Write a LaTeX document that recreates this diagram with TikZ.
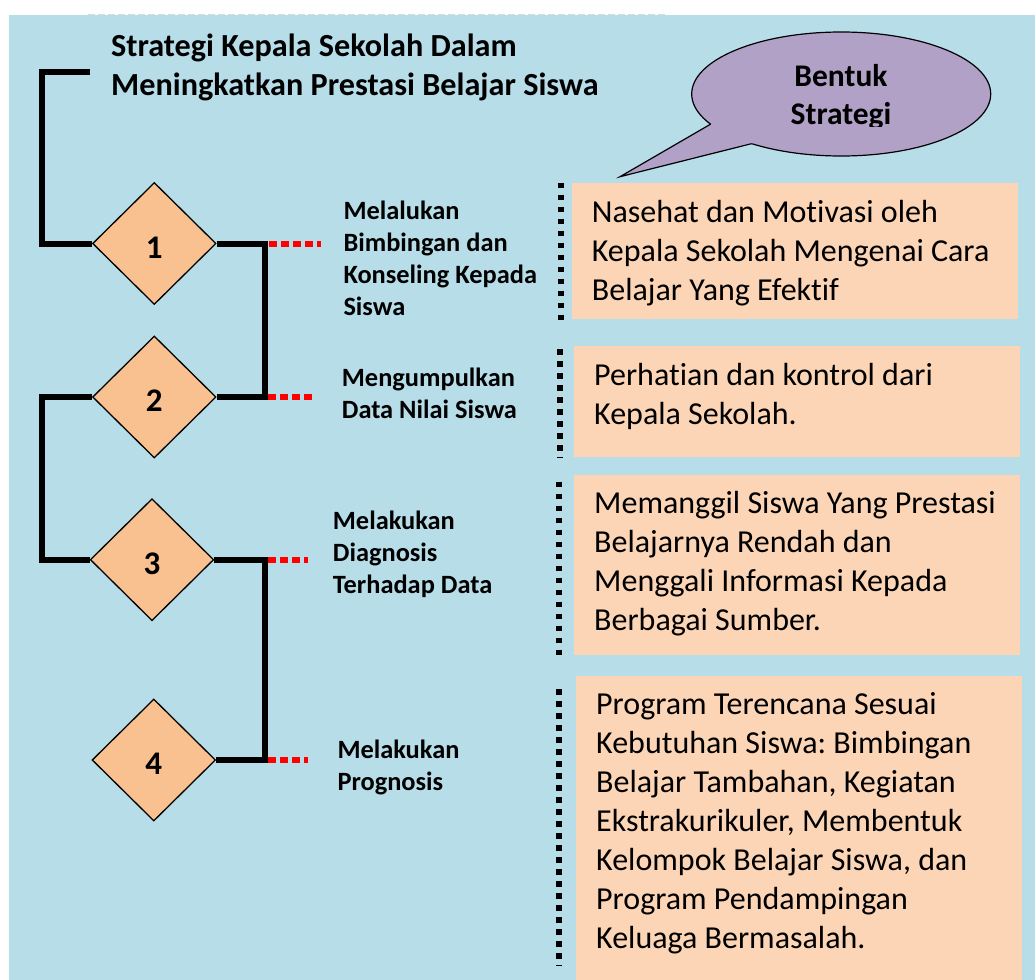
\documentclass[tikz,border=0pt]{standalone}
\usepackage{fontspec}
\setmainfont{Carlito}[Ligatures=CommonOff]
\usetikzlibrary{shapes.geometric}
\definecolor{bgblue}{HTML}{B7DDE8}
\definecolor{peach}{HTML}{FBD5B5}
\definecolor{diamondc}{HTML}{F9C090}
\definecolor{bubblec}{HTML}{B2A1C7}
\definecolor{dashgray}{HTML}{D4DCDE}
\frenchspacing
\newcommand\leftlines[1]{\vtop{\halign{##\hfil\cr#1\crcr}}}
\newcommand\centerlines[1]{\vtop{\halign{\hfil##\hfil\cr#1\crcr}}}
\tikzset{
  conn/.style={line width=6bp, line join=miter},
  reddots/.style={red, line width=6bp, dash pattern=on 7.5bp off 4.5bp},
  blackdots/.style={black, line width=5.7bp, dash pattern=on 5.7bp off 6.3bp},
  numdiamond/.style={diamond, draw, line width=1.3bp, fill=diamondc,
    minimum width=123.5bp, minimum height=122bp, inner sep=0bp,
    font=\fontsize{33bp}{33bp}\selectfont\bfseries, text height=29bp, text depth=0bp},
  stratbox/.style={rectangle, fill=peach, inner sep=0bp, minimum width=446bp},
  steplabel/.style={anchor=base west, inner sep=0bp, font=\fontsize{26.4bp}{32bp}\selectfont\bfseries},
  boxtext/.style={anchor=base west, inner sep=0bp, font=\fontsize{32bp}{39bp}\selectfont},
}
\begin{document}
\begin{tikzpicture}[x=1bp,y=-1bp]
\useasboundingbox (0,0) rectangle (1035,980);
\fill[white] (0,0) rectangle (1035,980);
\fill[bgblue] (9,15) rectangle (1035,980);
\draw[dashgray, line width=1.5bp, dash pattern=on 7bp off 3bp] (88,14.5) -- (665,14.5);

% title
\node[anchor=base west, inner sep=0bp, font=\fontsize{32.2bp}{39bp}\selectfont\bfseries] (title) at (111,56)
  {\leftlines{Strategi Kepala Sekolah Dalam\cr Meningkatkan Prestasi Belajar Siswa}};

% boxes
\node[stratbox, minimum height=136bp] (b1) at (795,251) {};
\node[stratbox, minimum height=111.3bp] (b2) at (797,401.7) {};
\node[stratbox, minimum height=180bp] (b3) at (797,565) {};
\node[stratbox, minimum height=304bp] (b4) at (799,828) {};

% black dotted lines
\coordinate (v1a) at (560.8,182.7); \coordinate (v1b) at (560.8,321);
\coordinate (v2a) at (560,349);     \coordinate (v2b) at (560,458);
\coordinate (v3a) at (559,481.7);   \coordinate (v3b) at (559,655);
\coordinate (v4a) at (559,689);     \coordinate (v4b) at (559,966);
\draw[blackdots] (v1a) -- (v1b);
\draw[blackdots] (v2a) -- (v2b);
\draw[blackdots] (v3a) -- (v3b);
\draw[blackdots] (v4a) -- (v4b);

% diamonds
\node[numdiamond] (d1) at (154.3,243.5) {1};
\node[numdiamond] (d2) at (154.3,397) {2};
\node[numdiamond] (d3) at (152,559.7) {3};
\node[numdiamond] (d4) at (153.8,760) {4};

% connectors
\coordinate (topR) at (90,72.3);
\coordinate (topL) at (42,72.3);
\coordinate (j12) at (264.7,320);
\coordinate (j23) at (42,480);
\coordinate (j34) at (264.7,660);
\draw[conn] (topR) -- (topL) |- (d1.west);
\draw[conn] (d1.east) -| (j12) |- (d2.east);
\draw[conn] (d2.west) -| (j23) |- (d3.west);
\draw[conn] (d3.east) -| (j34) |- (d4.east);

% red dotted lines
\coordinate (r1a) at (269,244);   \coordinate (r1b) at (321,244);
\coordinate (r2a) at (268,397);   \coordinate (r2b) at (316,397);
\coordinate (r3a) at (268,560);   \coordinate (r3b) at (308,560);
\coordinate (r4a) at (268,760);   \coordinate (r4b) at (308,760);
\draw[reddots] (r1a) -- (r1b);
\draw[reddots] (r2a) -- (r2b);
\draw[reddots] (r3a) -- (r3b);
\draw[reddots] (r4a) -- (r4b);

% step labels
\node[steplabel] (l1) at (343.3,219) {\leftlines{Melalukan\cr Bimbingan dan\cr Konseling Kepada\cr Siswa}};
\node[steplabel] (l2) at (341.7,386.7) {\leftlines{Mengumpulkan\cr Data Nilai Siswa}};
\node[steplabel] (l3) at (332.7,529) {\leftlines{Melakukan\cr Diagnosis\cr Terhadap Data}};
\node[steplabel] (l4) at (337.3,758.3) {\leftlines{Melakukan\cr Prognosis}};

% box texts
\node[boxtext] (t1) at (591.7,222.3) {\leftlines{Nasehat dan Motivasi oleh\cr Kepala Sekolah Mengenai Cara\cr Belajar Yang Efektif}};
\node[boxtext] (t2) at (594,385) {\leftlines{Perhatian dan kontrol dari\cr Kepala Sekolah.}};
\node[boxtext] (t3) at (594,513.3) {\leftlines{Memanggil Siswa Yang Prestasi\cr Belajarnya Rendah dan\cr Menggali Informasi Kepada\cr Berbagai Sumber.}};
\node[boxtext] (t4) at (596,714.3) {\leftlines{Program Terencana Sesuai\cr Kebutuhan Siswa: Bimbingan\cr Belajar Tambahan, Kegiatan\cr Ekstrakurikuler, Membentuk\cr Kelompok Belajar Siswa, dan\cr Program Pendampingan\cr Keluaga Bermasalah.}};

% callout
\node[ellipse, draw, line width=1.2bp, fill=bubblec, minimum width=299bp, minimum height=124bp,
      inner sep=0bp, outer sep=0bp] (bubble) at (841.2,94) {};
\coordinate (tip) at (620,176.7);
\fill[bubblec] (bubble.193) -- (tip) -- (bubble.209) -- (bubble.center) -- cycle;
\draw[line width=1.2bp, line join=miter] (bubble.193) -- (tip) -- (bubble.209);
\begin{scope}
  \clip (700,28) rectangle (990,126.5);
  \node[anchor=base, inner sep=0bp, font=\fontsize{31.5bp}{38.3bp}\selectfont\bfseries] (bt) at (841,86)
    {\centerlines{Bentuk\cr Strategi}};
\end{scope}
\end{tikzpicture}
\end{document}
